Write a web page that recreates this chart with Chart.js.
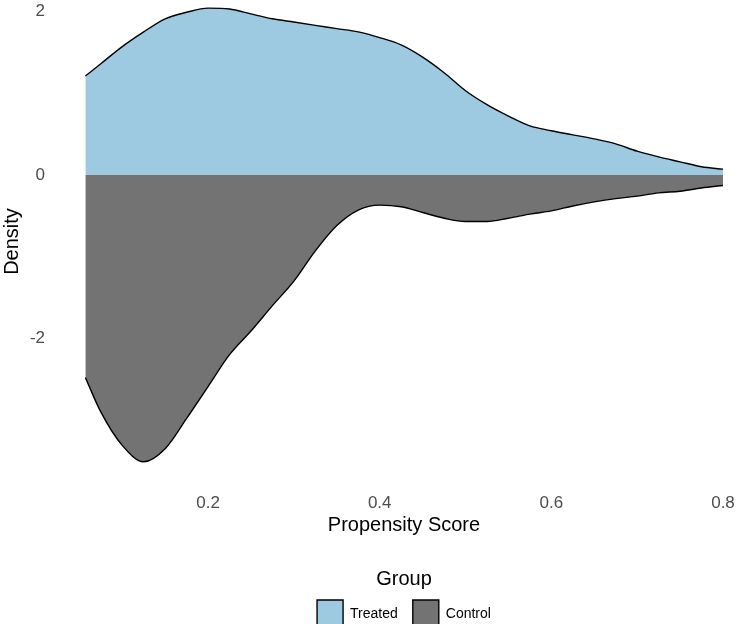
<!DOCTYPE html>
<html>
<head>
<meta charset="utf-8">
<script src="https://cdn.jsdelivr.net/npm/chart.js@4"></script>
<style>
  html, body { margin: 0; padding: 0; background: #fff; }
  #wrap { width: 738px; height: 624px; overflow: hidden; }
</style>
</head>
<body>
<div id="wrap"><canvas id="chart" width="738" height="624"></canvas></div>
<script>
// Propensity score densities, treated above zero and control mirrored below
const scores = [0.057, 0.075, 0.1, 0.125, 0.15, 0.175, 0.2, 0.225, 0.25, 0.275, 0.3,
    0.325, 0.35, 0.375, 0.4, 0.425, 0.45, 0.475, 0.5, 0.525, 0.55, 0.575, 0.6,
    0.625, 0.65, 0.675, 0.7, 0.725, 0.75, 0.775, 0.8];
const treatedDensity = [1.21, 1.36, 1.57, 1.75, 1.91, 1.99, 2.04, 2.03, 1.97, 1.91, 1.87,
    1.83, 1.79, 1.75, 1.68, 1.59, 1.44, 1.25, 1.03, 0.86, 0.72, 0.60, 0.54,
    0.49, 0.44, 0.38, 0.29, 0.22, 0.16, 0.10, 0.07];
const controlDensity = [-2.48, -2.90, -3.31, -3.51, -3.35, -2.98, -2.59, -2.20, -1.91, -1.60, -1.30,
    -0.93, -0.62, -0.43, -0.37, -0.39, -0.46, -0.53, -0.57, -0.57, -0.53, -0.48, -0.44,
    -0.38, -0.33, -0.29, -0.26, -0.22, -0.20, -0.16, -0.13];
const groupNames = ['Treated', 'Control'];
const xTicks = [0.2, 0.4, 0.6, 0.8];
const yTicks = [-2, 0, 2];

function toPoints(values) {
    return scores.map((s, i) => ({ x: s, y: values[i] }));
}

const fontFamily = 'Liberation Sans, Arial, sans-serif';
const tickFont = { family: fontFamily, size: 17 };
const titleFont = { family: fontFamily, size: 20 };

const ctx = document.getElementById('chart').getContext('2d');
new Chart(ctx, {
    type: 'line',
    data: {
        datasets: [
            {
                label: groupNames[0],
                data: toPoints(treatedDensity),
                backgroundColor: '#9ECAE1',
                borderColor: '#000000',
                borderWidth: 1.4,
                fill: 'origin',
                pointRadius: 0,
                cubicInterpolationMode: 'monotone'
            },
            {
                label: groupNames[1],
                data: toPoints(controlDensity),
                backgroundColor: '#737373',
                borderColor: '#000000',
                borderWidth: 1.4,
                fill: 'origin',
                pointRadius: 0,
                cubicInterpolationMode: 'monotone'
            }
        ]
    },
    options: {
        responsive: false,
        animation: false,
        // negative bottom padding lets the legend keys run off the canvas like the original
        layout: { padding: { top: 0, right: 15, bottom: -14, left: 0 } },
        scales: {
            x: {
                type: 'linear',
                min: 0.0566,
                max: 0.8,
                grid: { display: false },
                border: { display: false },
                afterBuildTicks: function(axis) {
                    axis.ticks = xTicks.map(v => ({ value: v }));
                },
                afterFit: function(axis) {
                    axis.height = 81;
                    axis.paddingLeft = 0;
                    axis.paddingRight = 0;
                },
                ticks: {
                    font: tickFont,
                    color: '#4D4D4D',
                    padding: 2,
                    maxRotation: 0,
                    callback: v => v.toFixed(1)
                },
                title: {
                    display: true,
                    text: 'Propensity Score',
                    font: titleFont,
                    color: '#000000',
                    padding: { top: 0, bottom: 27 }
                }
            },
            y: {
                min: -3.77,
                max: 2.14,
                grid: { display: false },
                border: { display: false },
                afterBuildTicks: function(axis) {
                    axis.ticks = yTicks.map(v => ({ value: v }));
                },
                afterFit: function(axis) {
                    axis.width = 85;
                    axis.paddingTop = 0;
                    axis.paddingBottom = 0;
                },
                ticks: {
                    font: tickFont,
                    color: '#4D4D4D',
                    padding: 32
                },
                title: {
                    display: true,
                    text: 'Density',
                    font: titleFont,
                    color: '#000000',
                    padding: { top: 0, bottom: 0 }
                }
            }
        },
        plugins: {
            legend: {
                position: 'bottom',
                fullSize: false,
                title: {
                    display: true,
                    text: 'Group',
                    font: titleFont,
                    color: '#000000',
                    padding: { top: 5, bottom: -8 }
                },
                labels: {
                    boxWidth: 26,
                    boxHeight: 28,
                    padding: 15,
                    color: '#000000',
                    font: { family: fontFamily, size: 14 }
                }
            },
            tooltip: { enabled: false }
        }
    }
});
</script>
</body>
</html>
